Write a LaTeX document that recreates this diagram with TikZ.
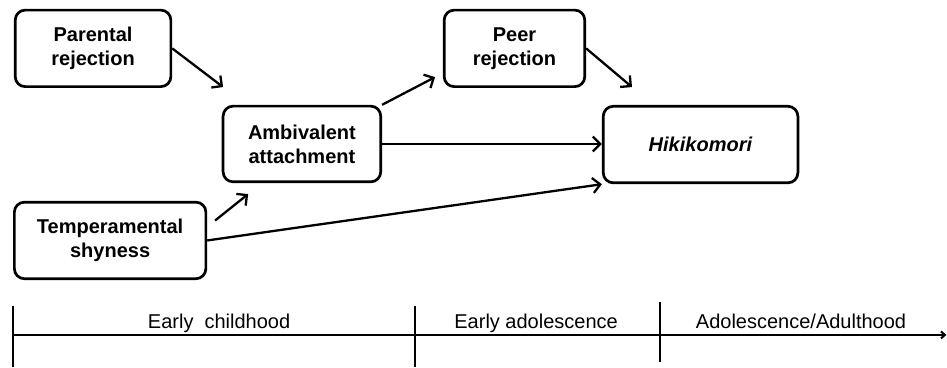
\documentclass[tikz,border=0pt]{standalone}
\usepackage{fontspec}
\setmainfont{Liberation Sans}
\usetikzlibrary{calc,arrows.meta}

\begin{document}
\begin{tikzpicture}[scale=1,>={Straight Barb[length=7.5pt,width=15pt]}, font=\fontsize{20}{24}\selectfont]
\def \sp {2.3pt}
  \tikzstyle{block} = [draw,color=black, fill=white, rectangle, rounded corners=10pt,
                       minimum height=2.69cm, line width=2.7pt, align=center, text=black,
                       inner sep=0, font=\fontsize{20}{24}\selectfont\bfseries]
  \tikzstyle{lines} = [black,line width=\sp,->]
  \tikzstyle{axis} = [black,line width=2pt,-]
  \tikzstyle{period} = [text=black, anchor=base, inner sep=0]

\useasboundingbox (0,0) rectangle (33.28,-12.90);

%%%%%%%%%%%%%%%%%%%%%%%%%%%%%%%%%%%%%%%%%%%%%%%%%%%%%%%%%%%%%%%%%%%%%%%%%%%%%%%

\coordinate (parental_pose) at (3.27, -1.70);
\coordinate (ambivalent_pose) at (10.61, -5.06);
\coordinate (peer_pose) at (18.08, -1.70);
\coordinate (hikikomori_pose) at (24.62, -5.08);
\coordinate (shyness_pose) at (3.87, -8.45);

\coordinate (parental_tip) at (7.84, -3.06);
\coordinate (peer_tip) at (15.29, -2.71);
\coordinate (hikikomori_tip) at (22.21, -3.06);
\coordinate (ambivalent_tip) at (8.72, -6.82);

%%%%%%%%%%%%%%%%%%%%%%%%%%%%%%%%%%%%%%%%%%%%%%%%%%%%%%%%%%%%%%%%%%%%%%%%%%%%%%%

\node[block, minimum width=5.47cm] (parental) at (parental_pose) {Parental\\rejection};
\node[block, minimum width=5.54cm, minimum height=2.66cm] (ambivalent) at (ambivalent_pose) {Ambivalent\\attachment};
\node[block, minimum width=4.94cm] (peer) at (peer_pose) {Peer\\rejection};
\node[block, minimum width=6.84cm] (hikikomori) at (hikikomori_pose) {\textit{Hikikomori}};
\node[block, minimum width=6.73cm] (shyness) at (shyness_pose) {Temperamental\\shyness};

%%%%%%%%%%%%%%%%%%%%%%%%%%%%%%%%%%%%%%%%%%%%%%%%%%%%%%%%%%%%%%%%%%%%%%%%%%%%%%%

\draw[lines] (parental.east) -- (parental_tip);
\draw[lines] (ambivalent.north east) -- (peer_tip);
\draw[lines] (peer.east) -- (hikikomori_tip);
\draw[lines] (ambivalent.east) -- (ambivalent.east -| hikikomori.west);
\draw[lines, shorten <=10pt] (shyness.8) -- (ambivalent_tip);
\draw[lines] (shyness.east) -- (hikikomori.south west);

%%%%%%%%%%%%%%%%%%%%%%%%%%%%%%%%%%%%%%%%%%%%%%%%%%%%%%%%%%%%%%%%%%%%%%%%%%%%%%%

\coordinate (time_start) at (0.46, -11.77);
\coordinate (time_end) at (33.26, -11.77);
\draw[axis, -{Straight Barb[length=4pt,width=7pt]}] (time_start) -- (time_end);
\draw[axis] (0.46, -10.75) -- (0.46, -12.90);
\draw[axis] (14.59, -10.75) -- (14.59, -12.90);
\draw[axis] (23.20, -10.62) -- (23.20, -12.72);

\node[period] (childhood) at (7.70, -11.53) {Early\ \ childhood};
\node[period] (adolescence) at (18.84, -11.53) {Early adolescence};
\node[period] (adulthood) at (28.15, -11.53) {Adolescence/Adulthood};

\end{tikzpicture}
\end{document}
